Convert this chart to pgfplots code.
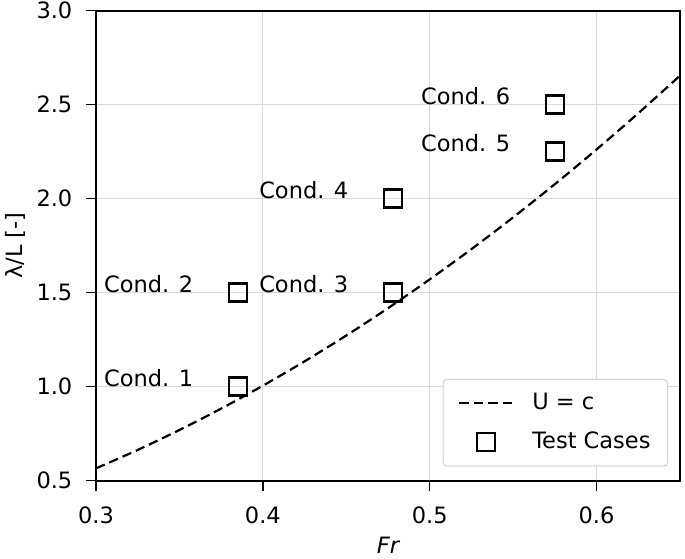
\documentclass[border=0pt]{standalone}
\usepackage{fontspec}
\setmainfont{DejaVu Sans}
\usepackage{pgfplots}
\pgfplotsset{compat=1.18}
\pgfplotsset{
  lineleg/.style={legend image code/.code={\draw[##1] (0bp,0bp) -- (54bp,0bp);}},
  markleg/.style={legend image code/.code={\draw[##1] plot coordinates {(27bp,0bp)};}},
}
\begin{document}
\fontsize{22.5bp}{27bp}\selectfont
\begin{tikzpicture}
\begin{axis}[
  scale only axis,
  width=584bp, height=470bp,
  xmin=0.3, xmax=0.65, ymin=0.5, ymax=3.0,
  xtick={0.3,0.4,0.5,0.6},
  ytick={0.5,1.0,1.5,2.0,2.5,3.0},
  xtick pos=lower, ytick pos=left,
  /pgf/number format/assume math mode=true,
  /pgf/number format/fixed,
  /pgf/number format/fixed zerofill,
  /pgf/number format/precision=1,
  tick label style={font=\fontsize{22.5bp}{27bp}\selectfont},
  x tick label style={yshift=-8bp},
  y tick label style={xshift=-6bp},
  tick align=outside,
  major tick length=10bp,
  tick style={black, line width=1.5bp},
  axis line style={black, line width=1.8bp},
  grid=major,
  grid style={gray!30, line width=0.9bp},
  every axis y label/.style={at={(axis description cs:-0.1387,0.5)}, rotate=90, anchor=center},
  every axis x label/.style={at={(axis description cs:0.5,0)}, anchor=base, yshift=-73bp},
  ylabel={λ/L [-]},
  xlabel={\itshape Fr},
  legend cell align=left,
  legend style={at={(1,0)}, anchor=south east, xshift=-12bp, yshift=14bp,
    draw=gray!35, line width=1bp, rounded corners=4bp,
    font=\fontsize{22.5bp}{27bp}\selectfont,
    inner xsep=15bp, inner ysep=12bp, row sep=15bp,
    /tikz/every odd column/.append style={column sep=16bp}},
]
\addplot[black, line width=2.2bp, dash pattern=on 9.5bp off 5bp, smooth, lineleg]
  coordinates {
  (0.300,0.5655) (0.325,0.6637) (0.350,0.7697) (0.375,0.8836)
  (0.400,1.0053) (0.425,1.1349) (0.450,1.2723) (0.475,1.4176)
  (0.500,1.5708) (0.525,1.7318) (0.550,1.9007) (0.575,2.0774)
  (0.600,2.2619) (0.625,2.4544) (0.650,2.6546)};
\addlegendentry{U = c}
\addplot[only marks, mark=square, mark size=9bp,
  mark options={draw=black, fill=none, line width=2.5bp, solid}, markleg]
  coordinates {
  (0.385,1.0) (0.385,1.5) (0.478,1.5) (0.478,2.0) (0.575,2.25) (0.575,2.5)};
\addlegendentry{Test Cases}
\node[anchor=base east, xshift=-37bp] at (axis cs:0.385,1.0) {Cond. 1};
\node[anchor=base east, xshift=-37bp] at (axis cs:0.385,1.5) {Cond. 2};
\node[anchor=base east, xshift=-37bp] at (axis cs:0.478,1.5) {Cond. 3};
\node[anchor=base east, xshift=-37bp] at (axis cs:0.478,2.0) {Cond. 4};
\node[anchor=base east, xshift=-37bp] at (axis cs:0.575,2.25) {Cond. 5};
\node[anchor=base east, xshift=-37bp] at (axis cs:0.575,2.5) {Cond. 6};
\end{axis}
\pgfresetboundingbox
\path (current axis.south west) ++(-96bp,-78.3bp) rectangle ++(685bp,559bp);
\end{tikzpicture}
\end{document}
